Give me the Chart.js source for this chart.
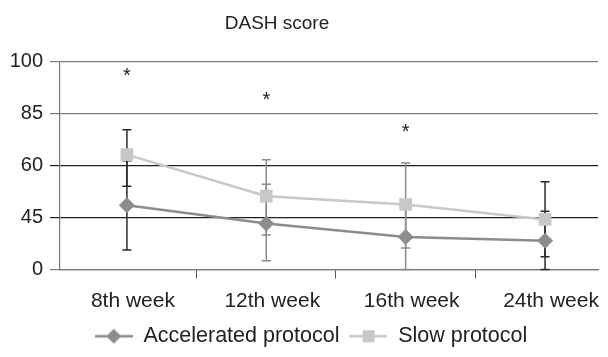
<!DOCTYPE html>
<html>
<head>
<meta charset="utf-8">
<script src="https://cdn.jsdelivr.net/npm/chart.js@4/dist/chart.umd.min.js"></script>
<style>
  html, body { margin: 0; padding: 0; background: #fff; }
  #wrap { width: 608px; height: 357px; }
</style>
</head>
<body>
<div id="wrap"><canvas id="dashChart" width="608" height="357"></canvas></div>
<script>
// categories and tick labels
const weeks = ["8th week", "12th week", "16th week", "24th week"];
const yTickLabels = ["0", "45", "60", "85", "100"];

// values in axis position units (each gridline step = 25)
const accelerated = [30.9, 22.2, 15.7, 13.8];
const acceleratedHi = [52.3, 41.0, 31.0, 28.1];
const acceleratedLo = [9.4, 4.2, 0, 0];

const slow = [55.3, 35.3, 31.3, 24.1];
const slowHi = [67.3, 52.9, 51.3, 42.2];
const slowLo = [40.1, 16.6, 10.3, 6.1];

// asterisks (significance) above weeks 8, 12, 16
const starWeeks = [0, 1, 2];
const starLevels = [94.2, 82.4, 67.3];

const font = "'Liberation Sans', Arial, sans-serif";
const accColor = "#8c8c8c";
const slowColor = "#c8c8c8";
const errColors = ["#2a2a2a", "#8a8a8a", "#8a8a8a", "#2a2a2a"];

function toPoints(arr) {
  return arr.map((v, i) => ({ x: i, y: v }));
}

// legend marker: line with marker in the middle
function legendIcon(color, shape) {
  const c = document.createElement("canvas");
  c.width = 38;
  c.height = 18;
  const g = c.getContext("2d");
  g.strokeStyle = color;
  g.lineWidth = 2.5;
  g.beginPath();
  g.moveTo(0, 9);
  g.lineTo(38, 9);
  g.stroke();
  g.fillStyle = color;
  g.beginPath();
  if (shape === "diamond") {
    g.moveTo(19, 1.5); g.lineTo(26.5, 9); g.lineTo(19, 16.5); g.lineTo(11.5, 9);
  } else {
    g.rect(13, 3, 12, 12);
  }
  g.closePath();
  g.fill();
  return c;
}

const errorBars = {
  id: "errorBars",
  afterLayout(chart) {
    // nudge title and legend to where the original has them
    const t = chart.titleBlock, l = chart.legend;
    if (t) { t.left -= 22; t.right -= 22; }
    if (l) { l.left += 12; l.right += 12; l.top += 2; l.bottom += 2; }
  },
  beforeDatasetsDraw(chart) {
    const { ctx, scales } = chart;
    const sets = [[acceleratedHi, acceleratedLo], [slowHi, slowLo]];
    ctx.save();
    ctx.lineWidth = 1.5;
    weeks.forEach((w, i) => {
      const x = scales.x.getPixelForValue(i);
      ctx.strokeStyle = errColors[i];
      sets.forEach(([hi, lo]) => {
        const yh = scales.y.getPixelForValue(hi[i]);
        const yl = scales.y.getPixelForValue(lo[i]);
        ctx.beginPath();
        ctx.moveTo(x, yh); ctx.lineTo(x, yl);
        ctx.moveTo(x - 4.5, yh); ctx.lineTo(x + 4.5, yh);
        ctx.moveTo(x - 4.5, yl); ctx.lineTo(x + 4.5, yl);
        ctx.stroke();
      });
    });
    ctx.restore();
  },
  afterDatasetsDraw(chart) {
    const { ctx, scales } = chart;
    ctx.save();
    ctx.fillStyle = "#222";
    ctx.font = "20px " + font;
    ctx.textAlign = "center";
    ctx.textBaseline = "alphabetic";
    starWeeks.forEach((w, k) => {
      const x = scales.x.getPixelForValue(w);
      const y = scales.y.getPixelForValue(starLevels[k]);
      ctx.fillText("*", x, y + 8);
    });
    ctx.restore();
  }
};

const icons = [legendIcon(accColor, "diamond"), legendIcon(slowColor, "square")];

new Chart(document.getElementById("dashChart"), {
  type: "line",
  data: {
    datasets: [
      {
        label: "Accelerated protocol",
        data: toPoints(accelerated),
        borderColor: accColor,
        backgroundColor: accColor,
        borderWidth: 2.5,
        pointStyle: "rectRot",
        pointRadius: 8,
        pointBorderWidth: 0,
        tension: 0
      },
      {
        label: "Slow protocol",
        data: toPoints(slow),
        borderColor: slowColor,
        backgroundColor: slowColor,
        borderWidth: 2.5,
        pointStyle: "rect",
        pointRadius: 9,
        pointBorderWidth: 0,
        tension: 0
      }
    ]
  },
  options: {
    responsive: false,
    animation: false,
    layout: { padding: { left: 0, right: 10, top: 0, bottom: 2 } },
    plugins: {
      title: {
        display: true,
        text: "DASH score",
        color: "#222",
        font: { family: font, size: 19, weight: "normal" },
        padding: { top: 12, bottom: 27 }
      },
      legend: {
        position: "bottom",
        labels: {
          color: "#222",
          font: { family: font, size: 21.5 },
          usePointStyle: true,
          pointStyleWidth: 38,
          padding: 10,
          generateLabels: chart => chart.data.datasets.map((d, i) => ({
            text: d.label,
            pointStyle: icons[i],
            fillStyle: d.backgroundColor,
            strokeStyle: d.borderColor,
            lineWidth: 0,
            fontColor: "#222",
            datasetIndex: i
          }))
        }
      },
      tooltip: { enabled: false }
    },
    scales: {
      x: {
        type: "linear",
        min: -0.48,
        max: 3.38,
        afterBuildTicks: s => { s.ticks = [0, 0.5, 1, 1.5, 2, 2.5, 3].map(v => ({ value: v })); },
        afterFit: s => { s.height = 44; },
        grid: {
          drawOnChartArea: false,
          tickLength: 9,
          tickColor: c => (c.tick && c.tick.value % 1 !== 0) ? "#555" : "rgba(0,0,0,0)"
        },
        border: { color: "#777", width: 1.2 },
        ticks: {
          autoSkip: false,
          maxRotation: 0,
          padding: 10,
          labelOffset: 6,
          color: "#222",
          font: { family: font, size: 21 },
          callback: v => Number.isInteger(v) ? weeks[v] : ""
        }
      },
      y: {
        min: 0,
        max: 100,
        afterFit: s => { s.width = 60; },
        grid: {
          tickLength: 10,
          lineWidth: 1.2,
          color: c => (c.tick && (c.tick.value === 25 || c.tick.value === 50)) ? "#1e1e1e" : "#7c7c7c"
        },
        border: { color: "#777", width: 1.2 },
        ticks: {
          stepSize: 25,
          padding: 7,
          color: "#222",
          font: { family: font, size: 20 },
          callback: v => yTickLabels[v / 25]
        }
      }
    }
  },
  plugins: [errorBars]
});
</script>
</body>
</html>
